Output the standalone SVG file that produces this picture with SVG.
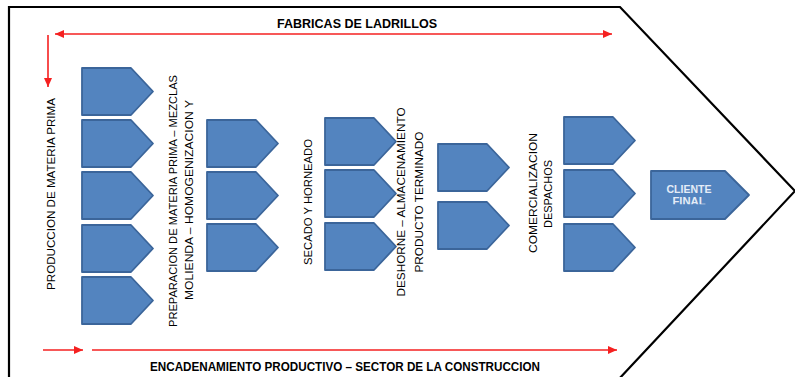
<svg xmlns="http://www.w3.org/2000/svg" width="795" height="377" viewBox="0 0 795 377">
<style>
.shape{fill:#5384bf;stroke:#3b659a;stroke-width:1.8;stroke-linejoin:round}
.lbl{font-family:"Liberation Sans",Arial,sans-serif;font-size:10.5px;fill:#000;text-anchor:middle}
.title{font-family:"Liberation Sans",Arial,sans-serif;font-size:12.5px;font-weight:bold;fill:#000;text-anchor:middle}
.wl{font-family:"Liberation Sans",Arial,sans-serif;font-size:10px;font-weight:bold;fill:#e4ecf7;text-anchor:middle}
.red{stroke:#f52020;stroke-width:1.6;fill:none}
</style>
<defs>
<path id="pent" d="M0,0 H49 L71,23.5 L49,47 H0 Z"/>
<marker id="ah" markerUnits="userSpaceOnUse" markerWidth="10" markerHeight="10" refX="9" refY="5" orient="auto-start-reverse"><path d="M0,1 L9,5 L0,9 Z" fill="#f52020"/></marker>
<clipPath id="cfin" clipPathUnits="userSpaceOnUse"><rect x="640" y="165" width="120" height="39.2"/></clipPath>
</defs>
<rect width="795" height="377" fill="#fff"/>
<polygon points="9,380 9,7 620,7 795,191 618,380" fill="none" stroke="#000" stroke-width="2.2"/>
<text class="title" x="357" y="28" textLength="160" lengthAdjust="spacingAndGlyphs">FABRICAS DE LADRILLOS</text>
<text class="title" x="345" y="371" textLength="390" lengthAdjust="spacingAndGlyphs">ENCADENAMIENTO PRODUCTIVO – SECTOR DE LA CONSTRUCCION</text>
<g id="connectors">
<line class="red" x1="55" y1="34" x2="612" y2="34" marker-start="url(#ah)" marker-end="url(#ah)"/>
<line class="red" x1="48" y1="35" x2="48" y2="87" marker-end="url(#ah)"/>
<line class="red" x1="43" y1="350" x2="83" y2="350" marker-end="url(#ah)"/>
<line class="red" x1="92" y1="350" x2="617" y2="350" marker-end="url(#ah)"/>
</g>
<g id="col1">
<use href="#pent" class="shape" transform="translate(82,68)"/>
<use href="#pent" class="shape" transform="translate(82,120)"/>
<use href="#pent" class="shape" transform="translate(82,172)"/>
<use href="#pent" class="shape" transform="translate(82,225)"/>
<use href="#pent" class="shape" transform="translate(82,277)"/>
</g>
<g id="col2">
<use href="#pent" class="shape" transform="translate(207,120)"/>
<use href="#pent" class="shape" transform="translate(207,172)"/>
<use href="#pent" class="shape" transform="translate(207,224)"/>
</g>
<g id="col3">
<use href="#pent" class="shape" transform="translate(325,118)"/>
<use href="#pent" class="shape" transform="translate(325,170)"/>
<use href="#pent" class="shape" transform="translate(325,223)"/>
</g>
<g id="col4">
<use href="#pent" class="shape" transform="translate(438,144)"/>
<use href="#pent" class="shape" transform="translate(438,202)"/>
</g>
<g id="col5">
<use href="#pent" class="shape" transform="translate(564,117)"/>
<use href="#pent" class="shape" transform="translate(564,170)"/>
<use href="#pent" class="shape" transform="translate(564,224)"/>
</g>
<g id="cliente">
<path class="shape" d="M651,171 H725 L749,195 L725,219 H651 Z"/>
<text class="wl" x="689" y="193" textLength="45" lengthAdjust="spacingAndGlyphs">CLIENTE</text>
<text class="wl" x="689" y="205.3" textLength="33" lengthAdjust="spacingAndGlyphs" clip-path="url(#cfin)">FINAL</text>
</g>
<g id="lbl-produccion">
<text class="lbl" transform="translate(55,194) rotate(-90)" textLength="192" lengthAdjust="spacingAndGlyphs">PRODUCCION DE MATERIA PRIMA</text>
</g>
<g id="lbl-preparacion">
<text class="lbl" transform="translate(177,201) rotate(-90)" textLength="252" lengthAdjust="spacingAndGlyphs">PREPARACION DE MATERIA PRIMA – MEZCLAS</text>
<text class="lbl" transform="translate(193,200) rotate(-90)" textLength="200" lengthAdjust="spacingAndGlyphs">MOLIENDA – HOMOGENIZACION Y</text>
</g>
<g id="lbl-secado">
<text class="lbl" transform="translate(312,202) rotate(-90)" textLength="126" lengthAdjust="spacingAndGlyphs">SECADO Y HORNEADO</text>
</g>
<g id="lbl-deshorne">
<text class="lbl" transform="translate(405,202) rotate(-90)" textLength="189" lengthAdjust="spacingAndGlyphs">DESHORNE – ALMACENAMIENTO</text>
<text class="lbl" transform="translate(423,202) rotate(-90)" textLength="141" lengthAdjust="spacingAndGlyphs">PRODUCTO TERMINADO</text>
</g>
<g id="lbl-comercializacion">
<text class="lbl" transform="translate(537,193) rotate(-90)" textLength="120" lengthAdjust="spacingAndGlyphs">COMERCIALIZACION</text>
<text class="lbl" transform="translate(552,194) rotate(-90)" textLength="68" lengthAdjust="spacingAndGlyphs">DESPACHOS</text>
</g>
</svg>
